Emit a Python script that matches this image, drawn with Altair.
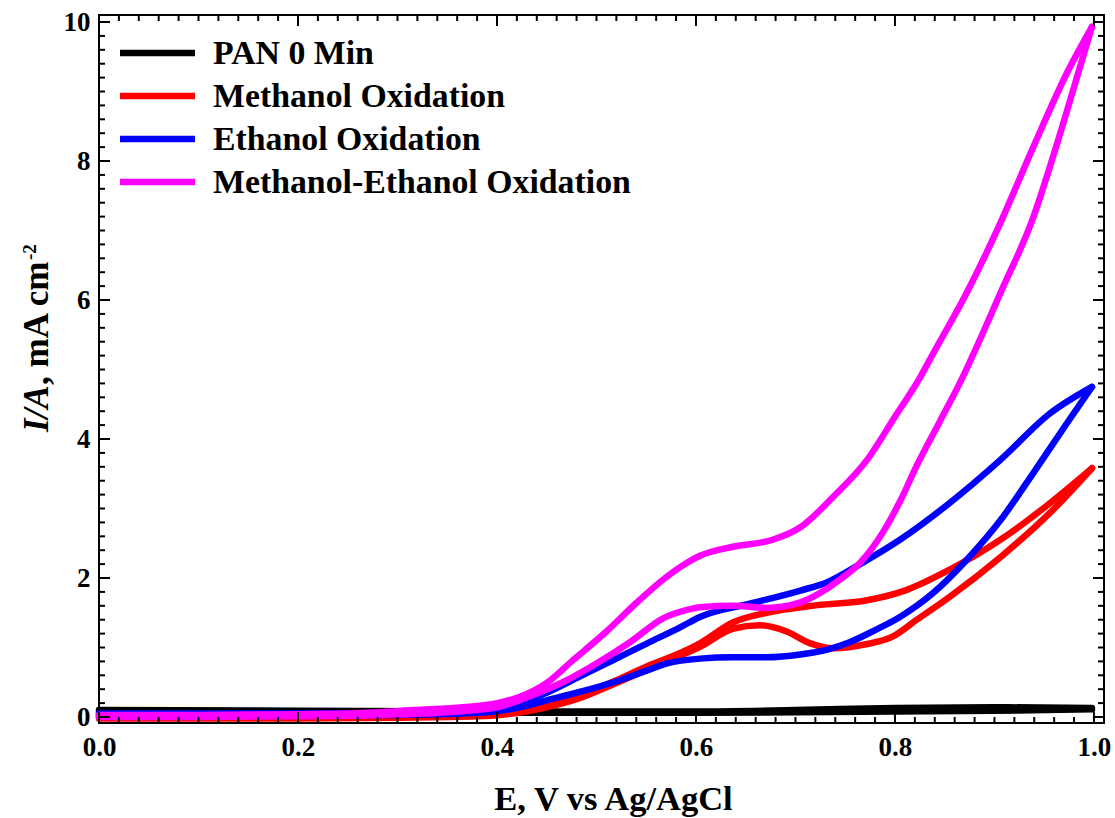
import altair as alt
import pandas as pd

# Cyclic voltammograms: every loop is kept as its two scan branches,
# each listed with rising potential
names = ["PAN 0 Min", "Methanol Oxidation", "Ethanol Oxidation", "Methanol-Ethanol Oxidation"]
colors = ["#000000", "#ff0000", "#0000ff", "#ff00ff"]

pan_lo_x = [0.0, 0.2, 0.4, 0.6, 0.8, 0.9, 0.998]
pan_lo_y = [0.07, 0.07, 0.06, 0.06, 0.08, 0.09, 0.11]
pan_hi_x = [0.0, 0.2, 0.4, 0.6, 0.7, 0.8, 0.9, 0.998]
pan_hi_y = [0.10, 0.09, 0.08, 0.08, 0.10, 0.13, 0.14, 0.13]

meoh_hi_x = [0.0, 0.1, 0.2, 0.3, 0.38, 0.416, 0.45, 0.483, 0.517, 0.551, 0.584, 0.604, 0.637,
             0.671, 0.722, 0.772, 0.812, 0.855, 0.906, 0.956, 0.998]
meoh_hi_y = [0.0, 0.0, 0.0, 0.01, 0.03, 0.08, 0.19, 0.31, 0.51, 0.73, 0.92, 1.06, 1.36,
             1.50, 1.61, 1.68, 1.83, 2.12, 2.55, 3.08, 3.58]
meoh_lo_x = [0.0, 0.1, 0.2, 0.3, 0.38, 0.416, 0.45, 0.483, 0.517, 0.551, 0.584, 0.604, 0.637,
             0.664, 0.691, 0.715, 0.738, 0.772, 0.798, 0.822, 0.855, 0.906, 0.956, 0.998]
meoh_lo_y = [-0.02, -0.02, -0.02, -0.01, 0.01, 0.05, 0.14, 0.27, 0.47, 0.68, 0.88, 1.01, 1.27,
             1.32, 1.23, 1.06, 0.99, 1.05, 1.16, 1.40, 1.73, 2.30, 2.94, 3.58]

etoh_lo_x = [0.0, 0.1, 0.2, 0.3, 0.383, 0.423, 0.45, 0.483, 0.517, 0.551, 0.571, 0.604,
             0.637, 0.671, 0.705, 0.732, 0.755, 0.78, 0.805, 0.838, 0.872, 0.906, 0.939, 0.973, 0.998]
etoh_lo_y = [0.02, 0.02, 0.02, 0.03, 0.06, 0.14, 0.24, 0.36, 0.50, 0.67, 0.77, 0.84,
             0.86, 0.86, 0.90, 0.97, 1.08, 1.25, 1.44, 1.78, 2.26, 2.83, 3.51, 4.23, 4.75]
etoh_hi_x = [0.0, 0.1, 0.2, 0.3, 0.35, 0.40, 0.423, 0.45, 0.483, 0.517, 0.551, 0.584, 0.604,
             0.654, 0.705, 0.732, 0.765, 0.805, 0.855, 0.906, 0.956, 0.998]
etoh_hi_y = [0.05, 0.05, 0.05, 0.05, 0.06, 0.10, 0.20, 0.35, 0.58, 0.82, 1.06, 1.29, 1.44,
             1.63, 1.82, 1.94, 2.20, 2.55, 3.08, 3.70, 4.37, 4.75]

mix_lo_x = [0.0, 0.1, 0.2, 0.282, 0.35, 0.40, 0.433, 0.466, 0.50, 0.534, 0.567, 0.591, 0.604,
            0.637, 0.671, 0.705, 0.745, 0.765, 0.788, 0.805, 0.822, 0.845, 0.865, 0.906, 0.939,
            0.964, 0.988, 0.998]
mix_lo_y = [0.0, 0.0, 0.01, 0.03, 0.07, 0.14, 0.30, 0.50, 0.77, 1.08, 1.42, 1.54, 1.58,
            1.60, 1.57, 1.65, 1.98, 2.22, 2.66, 3.10, 3.62, 4.25, 4.80, 6.10, 7.19,
            8.30, 9.45, 9.93]
mix_hi_x = [0.0, 0.1, 0.2, 0.282, 0.316, 0.366, 0.40, 0.423, 0.45, 0.475, 0.51, 0.54, 0.569,
            0.591, 0.604, 0.637, 0.677, 0.705, 0.738, 0.772, 0.80, 0.825, 0.838, 0.872, 0.906,
            0.939, 0.973, 0.998]
mix_hi_y = [0.03, 0.03, 0.04, 0.07, 0.10, 0.14, 0.20, 0.29, 0.49, 0.80, 1.23, 1.64, 2.00,
            2.22, 2.32, 2.45, 2.55, 2.73, 3.17, 3.70, 4.32, 4.88, 5.22, 6.10, 7.11,
            8.20, 9.27, 9.93]

# Axis ticks (major with labels, minor unlabeled)
x_major = [0.0, 0.2, 0.4, 0.6, 0.8, 1.0]
x_minor = [round(i * 0.02, 2) for i in range(51) if i % 10]
y_major = [0, 2, 4, 6, 8, 10]
y_minor = [round(i * 0.2, 1) for i in range(51) if i % 10]

W, H = 1005, 708
FONT = "Liberation Serif"
MAJ, MIN = 11, 6

xs = alt.Scale(domain=[0.0, 1.0101], nice=False, zero=False)
ys = alt.Scale(domain=[-0.0863, 10.101], nice=False, zero=False)

x_axis = alt.Axis(values=x_major, format=".1f", ticks=False, tickSize=0, domain=False, grid=False,
                  labelFont=FONT, labelFontWeight="bold", labelFontSize=27, labelColor="black",
                  labelPadding=11, labelFlush=False, labelOverlap=False,
                  titleFont=FONT, titleFontWeight="bold", titleFontSize=34.5, titleColor="black",
                  titlePadding=22, titleX=514)
y_axis = alt.Axis(values=y_major, format="d", ticks=False, tickSize=0, domain=False, grid=False,
                  labelFont=FONT, labelFontWeight="bold", labelFontSize=27, labelColor="black",
                  labelPadding=9, labelFlush=False, labelOverlap=False, title="")

X_TITLE = "E, V vs Ag/AgCl"


def xq(field):
    return alt.X(f"{field}:Q", scale=xs, axis=x_axis, title=X_TITLE)


def yq(field):
    return alt.Y(f"{field}:Q", scale=ys, axis=y_axis, title="")


def loop_layer(lo_x, lo_y, hi_x, hi_y, color):
    df = pd.concat([
        pd.DataFrame({"x": lo_x, "y": lo_y, "branch": "lo"}),
        pd.DataFrame({"x": hi_x, "y": hi_y, "branch": "hi"}),
    ], ignore_index=True)
    return alt.Chart(df).mark_line(
        color=color, strokeWidth=6.5, strokeCap="round", strokeJoin="round",
        interpolate="monotone"
    ).encode(x=xq("x"), y=yq("y"), detail="branch:N", order=alt.Order("x:Q"))


curves = [
    loop_layer(pan_lo_x, pan_lo_y, pan_hi_x, pan_hi_y, colors[0]),
    loop_layer(meoh_lo_x, meoh_lo_y, meoh_hi_x, meoh_hi_y, colors[1]),
    loop_layer(etoh_lo_x, etoh_lo_y, etoh_hi_x, etoh_hi_y, colors[2]),
    loop_layer(mix_lo_x, mix_lo_y, mix_hi_x, mix_hi_y, colors[3]),
]


def x_ticks(vals, length):
    df = pd.DataFrame({"v": vals})
    base = alt.Chart(df).mark_rule(color="black", strokeWidth=2)
    bottom = base.encode(x=xq("v"), y=alt.value(H), y2=alt.value(H - length))
    top = base.encode(x=xq("v"), y=alt.value(0), y2=alt.value(length))
    return [bottom, top]


def y_ticks(vals, length):
    df = pd.DataFrame({"v": vals})
    base = alt.Chart(df).mark_rule(color="black", strokeWidth=2)
    left = base.encode(y=yq("v"), x=alt.value(0), x2=alt.value(length))
    right = base.encode(y=yq("v"), x=alt.value(W), x2=alt.value(W - length))
    return [left, right]


ticks = x_ticks(x_major, MAJ) + x_ticks(x_minor, MIN) + y_ticks(y_major, MAJ) + y_ticks(y_minor, MIN)

# Rotated y-axis title with an italic I/A and a superscript exponent
t1 = alt.Chart(pd.DataFrame({"t": ["I/A"]})).mark_text(
    angle=270, align="left", baseline="alphabetic", font=FONT, fontSize=35,
    fontWeight="bold", fontStyle="italic", color="black"
).encode(x=alt.value(-51), y=alt.value(417), text="t:N")
t2 = alt.Chart(pd.DataFrame({"t": [", mA cm"]})).mark_text(
    angle=270, align="left", baseline="alphabetic", font=FONT, fontSize=35,
    fontWeight="bold", color="black"
).encode(x=alt.value(-51), y=alt.value(370), text="t:N")
t3 = alt.Chart(pd.DataFrame({"t": ["-2"]})).mark_text(
    angle=270, align="left", baseline="alphabetic", font=FONT, fontSize=19,
    fontWeight="bold", color="black"
).encode(x=alt.value(-63), y=alt.value(245), text="t:N")

plot = alt.layer(*curves, *ticks, t1, t2, t3)

# Legend drawn in the upper-left corner of the plot
leg_df = pd.DataFrame({"name": names})
leg_y = alt.Y("name:N", scale=alt.Scale(type="point", domain=names, range=[38, 167], padding=0),
              axis=None)
leg_lines = alt.Chart(leg_df).mark_rule(strokeWidth=6.5).encode(
    x=alt.value(21), x2=alt.value(96), y=leg_y,
    color=alt.Color("name:N", scale=alt.Scale(domain=names, range=colors), legend=None)
)
leg_text = alt.Chart(leg_df).mark_text(
    align="left", baseline="middle", font=FONT, fontSize=33.8, fontWeight="bold", color="black", dy=1
).encode(x=alt.value(114), y=leg_y, text="name:N")
legend = alt.layer(leg_lines, leg_text)

chart = alt.layer(plot, legend).resolve_scale(y="independent").properties(
    width=W, height=H,
    autosize=alt.AutoSizeParams(type="none"),
    padding={"left": 99, "top": 15, "right": 11, "bottom": 95},
    background="white",
).configure_view(stroke="black", strokeWidth=2)

chart.save("out.html", embed_options={"renderer": "svg", "actions": False})
